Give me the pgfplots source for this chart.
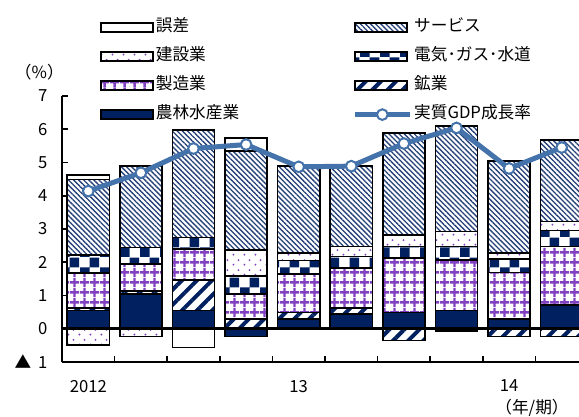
\documentclass[border=0pt]{standalone}
\usepackage{fontspec}
\setmainfont{Noto Sans CJK JP}
\usepackage{pgfplots}
\usepackage{pgfplotstable}
\pgfplotsset{compat=1.18}
\usetikzlibrary{patterns,patterns.meta}

\definecolor{navy}{HTML}{002060}
\definecolor{purp}{HTML}{8040C0}
\definecolor{gdpblue}{HTML}{4472AA}

% checkerboard, 7.5pt squares
\pgfdeclarepattern{
  name=chk, type=uncolored,
  bottom left={\pgfpoint{0pt}{0pt}}, top right={\pgfpoint{15pt}{15pt}},
  tile size={\pgfpoint{15pt}{15pt}},
  code={
    \pgfpathrectangle{\pgfpoint{0pt}{0pt}}{\pgfpoint{7.5pt}{7.5pt}}
    \pgfpathrectangle{\pgfpoint{7.5pt}{7.5pt}}{\pgfpoint{7.5pt}{7.5pt}}
    \pgfusepath{fill}
  }
}
% open grid
\pgfdeclarepattern{
  name=grd, type=uncolored,
  bottom left={\pgfpoint{0pt}{0pt}}, top right={\pgfpoint{7.5pt}{7.5pt}},
  tile size={\pgfpoint{7.5pt}{7.5pt}},
  code={
    \pgfsetlinewidth{1.9pt}
    \pgfpathmoveto{\pgfpoint{0pt}{3.75pt}}\pgfpathlineto{\pgfpoint{7.5pt}{3.75pt}}
    \pgfpathmoveto{\pgfpoint{3.75pt}{0pt}}\pgfpathlineto{\pgfpoint{3.75pt}{7.5pt}}
    \pgfusepath{stroke}
  }
}
% staggered dots
\pgfdeclarepattern{
  name=dts, type=uncolored,
  bottom left={\pgfpoint{0pt}{0pt}}, top right={\pgfpoint{8.25pt}{7.5pt}},
  tile size={\pgfpoint{8.25pt}{7.5pt}},
  code={
    \pgfpathcircle{\pgfpoint{2pt}{1.9pt}}{0.85pt}
    \pgfpathcircle{\pgfpoint{6.1pt}{5.6pt}}{0.85pt}
    \pgfusepath{fill}
  }
}

\pgfplotsset{
  base/.style={at={(0,0)}, anchor=south west, scale only axis,
    width=394.5pt, height=199.5pt,
    xmin=-0.5, xmax=9.5, ymin=-1, ymax=7},
  seg/.style={draw=black, line width=1.2pt},
  agrpat/.style={fill=navy},
  minpat/.style={pattern={Lines[angle=45,distance=8pt,line width=3pt]}, pattern color=navy},
  manpat/.style={pattern=grd, pattern color=purp},
  elepat/.style={pattern=chk, pattern color=navy},
  conpat/.style={pattern=dts, pattern color=purp},
  svcpat/.style={pattern={Lines[angle=-45,distance=2.7pt,line width=1pt]}, pattern color=navy!85},
  errpat/.style={fill=white},
  boxleg/.style={legend image code/.code={\draw[##1, draw=black, line width=1.2pt] (0pt,-3.5pt) rectangle (39pt,3.5pt);}},
  gdpleg/.style={legend image code/.code={
    \draw[gdpblue, line width=3.75pt] (0pt,0pt) -- (41pt,0pt);
    \draw[gdpblue, fill=white, line width=1.5pt] (20.5pt,0pt) circle (4pt);}},
}

% positive contributions, stacked from the bottom
\pgfplotstableread{
x agr min man ele con svc err
0 0.55 0.07 1.05 0.55 0.00 2.27 0.13
1 1.04 0.10 0.80 0.50 0.00 2.45 0.02
2 0.55 0.92 0.92 0.36 0.00 3.22 0.00
3 0.00 0.30 0.75 0.54 0.78 2.97 0.40
4 0.29 0.20 1.15 0.41 0.22 2.62 0.00
5 0.44 0.18 1.20 0.35 0.30 2.42 0.00
6 0.49 0.00 1.63 0.35 0.35 3.07 0.00
7 0.55 0.00 1.52 0.40 0.45 3.17 0.00
8 0.29 0.00 1.40 0.41 0.17 2.78 0.00
9 0.72 0.00 1.75 0.48 0.27 2.45 0.00
}\pos

% negative contributions
\pgfplotstableread{
x agr min con err
0 0.00 0.00 -0.48 0.00
1 0.00 0.00 -0.23 0.00
2 0.00 0.00 0.00 -0.56
3 -0.23 0.00 0.00 0.00
4 0.00 0.00 0.00 0.00
5 0.00 0.00 0.00 0.00
6 0.00 -0.35 0.00 0.00
7 0.00 -0.07 0.00 0.00
8 0.00 -0.23 0.00 0.00
9 0.00 -0.23 0.00 0.00
}\neg

\pgfplotstableread{
x gdp
0 4.14
1 4.69
2 5.42
3 5.54
4 4.87
5 4.89
6 5.57
7 6.04
8 4.82
9 5.45
}\gdp

\begin{document}
\begin{tikzpicture}[font=\fontsize{12.5}{15}\selectfont]
\begin{axis}[base, ybar stacked, bar width=0.8,
  axis x line*=bottom, axis y line*=left,
  axis line style={line width=1.5pt, -},
  tick align=inside, major tick length=4.5pt,
  tick style={black, line width=1.2pt},
  ytick={-1,0,...,7},
  yticklabels={▲\hspace{5pt}1,0,1,2,3,4,5,6,7},
  yticklabel style={xshift=-7.5pt},
  /pgf/number format/assume math mode=true,
  xtick={0.5,1.5,...,8.5}, xticklabels={},
  extra x ticks={0,4,8}, extra x tick labels={2012,13,14},
  extra x tick style={major tick length=0pt, xticklabel style={yshift=-10pt}},
  tick label style={font=\fontsize{12.5}{15}\selectfont},
]
\addplot[seg, agrpat] table[x=x, y=agr] {\pos};
\addplot[seg, minpat] table[x=x, y=min] {\pos};
\addplot[seg, manpat] table[x=x, y=man] {\pos};
\addplot[seg, elepat] table[x=x, y=ele] {\pos};
\addplot[seg, conpat] table[x=x, y=con] {\pos};
\addplot[seg, svcpat] table[x=x, y=svc] {\pos};
\addplot[seg, errpat] table[x=x, y=err] {\pos};
\end{axis}

\begin{axis}[base, hide axis, ybar stacked, bar width=0.8]
\addplot[seg, agrpat] table[x=x, y=agr] {\neg};
\addplot[seg, minpat] table[x=x, y=min] {\neg};
\addplot[seg, conpat] table[x=x, y=con] {\neg};
\addplot[seg, errpat] table[x=x, y=err] {\neg};
\draw[black, line width=2pt] (axis cs:-0.5,0) -- (axis cs:9.5,0);
\end{axis}

\begin{axis}[base, hide axis, clip=false,
  legend columns=2,
  legend style={at={(0,1)}, anchor=north west, xshift=28.5pt, yshift=59pt,
    draw=none, fill=none, inner sep=0pt, row sep=6.75pt, column sep=0pt,
    font=\fontsize{12.5}{15}\selectfont,
    nodes={inner sep=1.5pt, text height=9pt, text depth=3pt, anchor=west}},
]
\addlegendimage{boxleg, errpat}\addlegendentry{\makebox[146pt][l]{誤差}}
\addlegendimage{boxleg, svcpat}\addlegendentry{サービス}
\addlegendimage{boxleg, conpat}\addlegendentry{\makebox[146pt][l]{建設業}}
\addlegendimage{boxleg, elepat}\addlegendentry{電気･ガス･水道}
\addlegendimage{boxleg, manpat}\addlegendentry{\makebox[146pt][l]{製造業}}
\addlegendimage{boxleg, minpat}\addlegendentry{鉱業}
\addlegendimage{boxleg, agrpat}\addlegendentry{\makebox[146pt][l]{農林水産業}}
\addlegendimage{gdpleg}\addlegendentry{実質GDP成長率}
\addplot[forget plot, gdpblue, line width=3.75pt, mark=*, mark size=4pt,
  mark options={fill=white, draw=gdpblue, line width=1.5pt}]
  table[x=x, y=gdp] {\gdp};
\node at (rel axis cs:0,1) [xshift=-17pt, yshift=18pt] {（\%）};
\node at (rel axis cs:0,0) [xshift=352.5pt, yshift=-34.5pt] {（年/期）};
\end{axis}
\pgfresetboundingbox
\useasboundingbox (-46.5pt,-41.25pt) rectangle (387.75pt,271.5pt);
\end{tikzpicture}
\end{document}
